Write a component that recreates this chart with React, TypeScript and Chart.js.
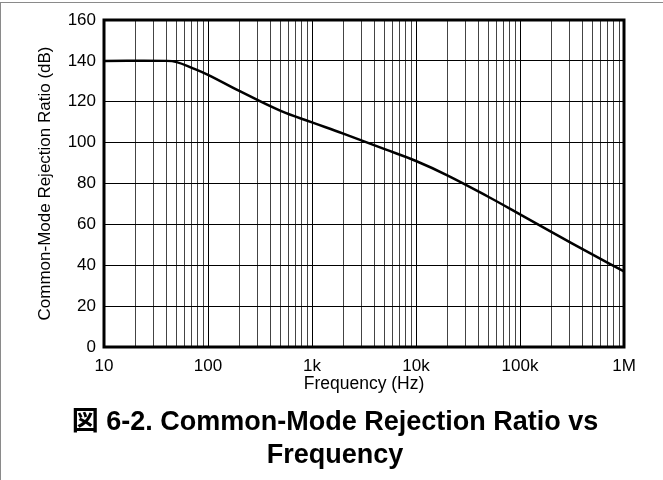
import React, { useEffect, useRef } from "react";
import { Chart, registerables } from "chart.js";

Chart.register(...registerables);

// Data
const freqHz = [10, 40, 50, 70, 100, 200, 500, 1000, 2000, 5000, 10000, 20000, 50000, 100000, 200000, 500000, 1000000];
const cmrrDb = [140, 140, 139.4, 136.6, 133.2, 125.3, 115.5, 109.9, 104.4, 96.8, 91.0, 84.0, 73.4, 64.9, 56.3, 45.2, 37.0];

const xDecades = [10, 100, 1000, 10000, 100000, 1000000];
const xDecadeLabels = ["10", "100", "1k", "10k", "100k", "1M"];
const yTicks = [0, 20, 40, 60, 80, 100, 120, 140, 160];

const yTitle = "Common-Mode Rejection Ratio (dB)";
const xTitle = "Frequency (Hz)";
const captionLines = ["図 6-2. Common-Mode Rejection Ratio vs", "Frequency"];

const FONT = "'Liberation Sans', Arial, Helvetica, sans-serif";

export default function App() {
  const canvasRef = useRef<HTMLCanvasElement | null>(null);

  useEffect(() => {
    const canvas = canvasRef.current;
    if (!canvas) return;

    const frame = {
      id: "plotFrame",
      afterDraw(chart: any) {
        const { ctx, chartArea } = chart;
        ctx.save();
        ctx.strokeStyle = "#000";
        ctx.lineWidth = 3;
        ctx.strokeRect(chartArea.left, chartArea.top, chartArea.right - chartArea.left, chartArea.bottom - chartArea.top);
        ctx.restore();
      },
    };

    const chart = new Chart(canvas, {
      type: "line",
      data: {
        datasets: [
          {
            data: freqHz.map((f, i) => ({ x: f, y: cmrrDb[i] })),
            borderColor: "#000",
            borderWidth: 2.5,
            pointRadius: 0,
            fill: false,
            tension: 0.4,
          },
        ],
      },
      options: {
        animation: false,
        responsive: false,
        maintainAspectRatio: false,
        layout: { padding: { left: 0, top: 20, right: 39, bottom: 0 } },
        plugins: { legend: { display: false }, tooltip: { enabled: false }, title: { display: false } },
        scales: {
          x: {
            type: "logarithmic",
            position: "bottom",
            min: 10,
            max: 1000000,
            afterBuildTicks(scale: any) {
              const ticks: any[] = [];
              for (let d = 0; d < xDecades.length; d++) {
                const dec = xDecades[d];
                if (d === xDecades.length - 1) {
                  ticks.push({ value: dec, major: true });
                } else {
                  for (let m = 1; m < 10; m++) ticks.push({ value: dec * m, major: m === 1 });
                }
              }
              scale.ticks = ticks;
            },
            afterFit(scale: any) {
              scale.height = 133;
            },
            grid: {
              drawTicks: false,
              lineWidth: 1,
              color: (ctx: any) => (ctx.tick && xDecades.includes(ctx.tick.value) ? "#000" : "#444"),
            },
            border: { display: false },
            ticks: {
              autoSkip: false,
              maxRotation: 0,
              padding: 9,
              color: "#000",
              font: { family: FONT, size: 17 },
              callback: (v: any) => {
                const i = xDecades.indexOf(Number(v));
                return i >= 0 ? xDecadeLabels[i] : "";
              },
            },
            title: {
              display: true,
              text: xTitle,
              color: "#000",
              font: { family: FONT, size: 17.5 },
              padding: { top: 0, bottom: 85 },
            },
          },
          y: {
            type: "linear",
            min: 0,
            max: 160,
            afterBuildTicks(scale: any) {
              scale.ticks = yTicks.map((v) => ({ value: v }));
            },
            afterFit(scale: any) {
              scale.width = 104;
            },
            grid: { drawTicks: false, color: "#000", lineWidth: 1 },
            border: { display: false },
            ticks: {
              padding: 8,
              color: "#000",
              font: { family: FONT, size: 17 },
            },
            title: {
              display: true,
              text: yTitle,
              color: "#000",
              font: { family: FONT, size: 17 },
              padding: { top: 35, bottom: 0 },
            },
          },
        },
      },
      plugins: [frame],
    } as any);

    return () => chart.destroy();
  }, []);

  return (
    <div style={{ position: "absolute", left: 0, top: 0, width: 663, height: 480, background: "#fff", overflow: "hidden" }}>
      <div style={{ position: "absolute", left: 0, top: 2, width: 663, height: 1, background: "#8a8a8a" }} />
      <div style={{ position: "absolute", left: 0, top: 2, width: 1, height: 478, background: "#8a8a8a" }} />
      <canvas ref={canvasRef} width={663} height={480} style={{ position: "absolute", left: 0, top: 0, width: 663, height: 480 }} />
      <div
        style={{
          position: "absolute",
          left: 0,
          top: 405,
          width: 670,
          textAlign: "center",
          fontFamily: "'Liberation Sans', Arial, 'Noto Sans CJK JP', sans-serif",
          fontWeight: "bold",
          fontSize: 27,
          lineHeight: "33px",
          color: "#000",
        }}
      >
        {captionLines.map((l, i) => (
          <div key={i}>{l}</div>
        ))}
      </div>
    </div>
  );
}
